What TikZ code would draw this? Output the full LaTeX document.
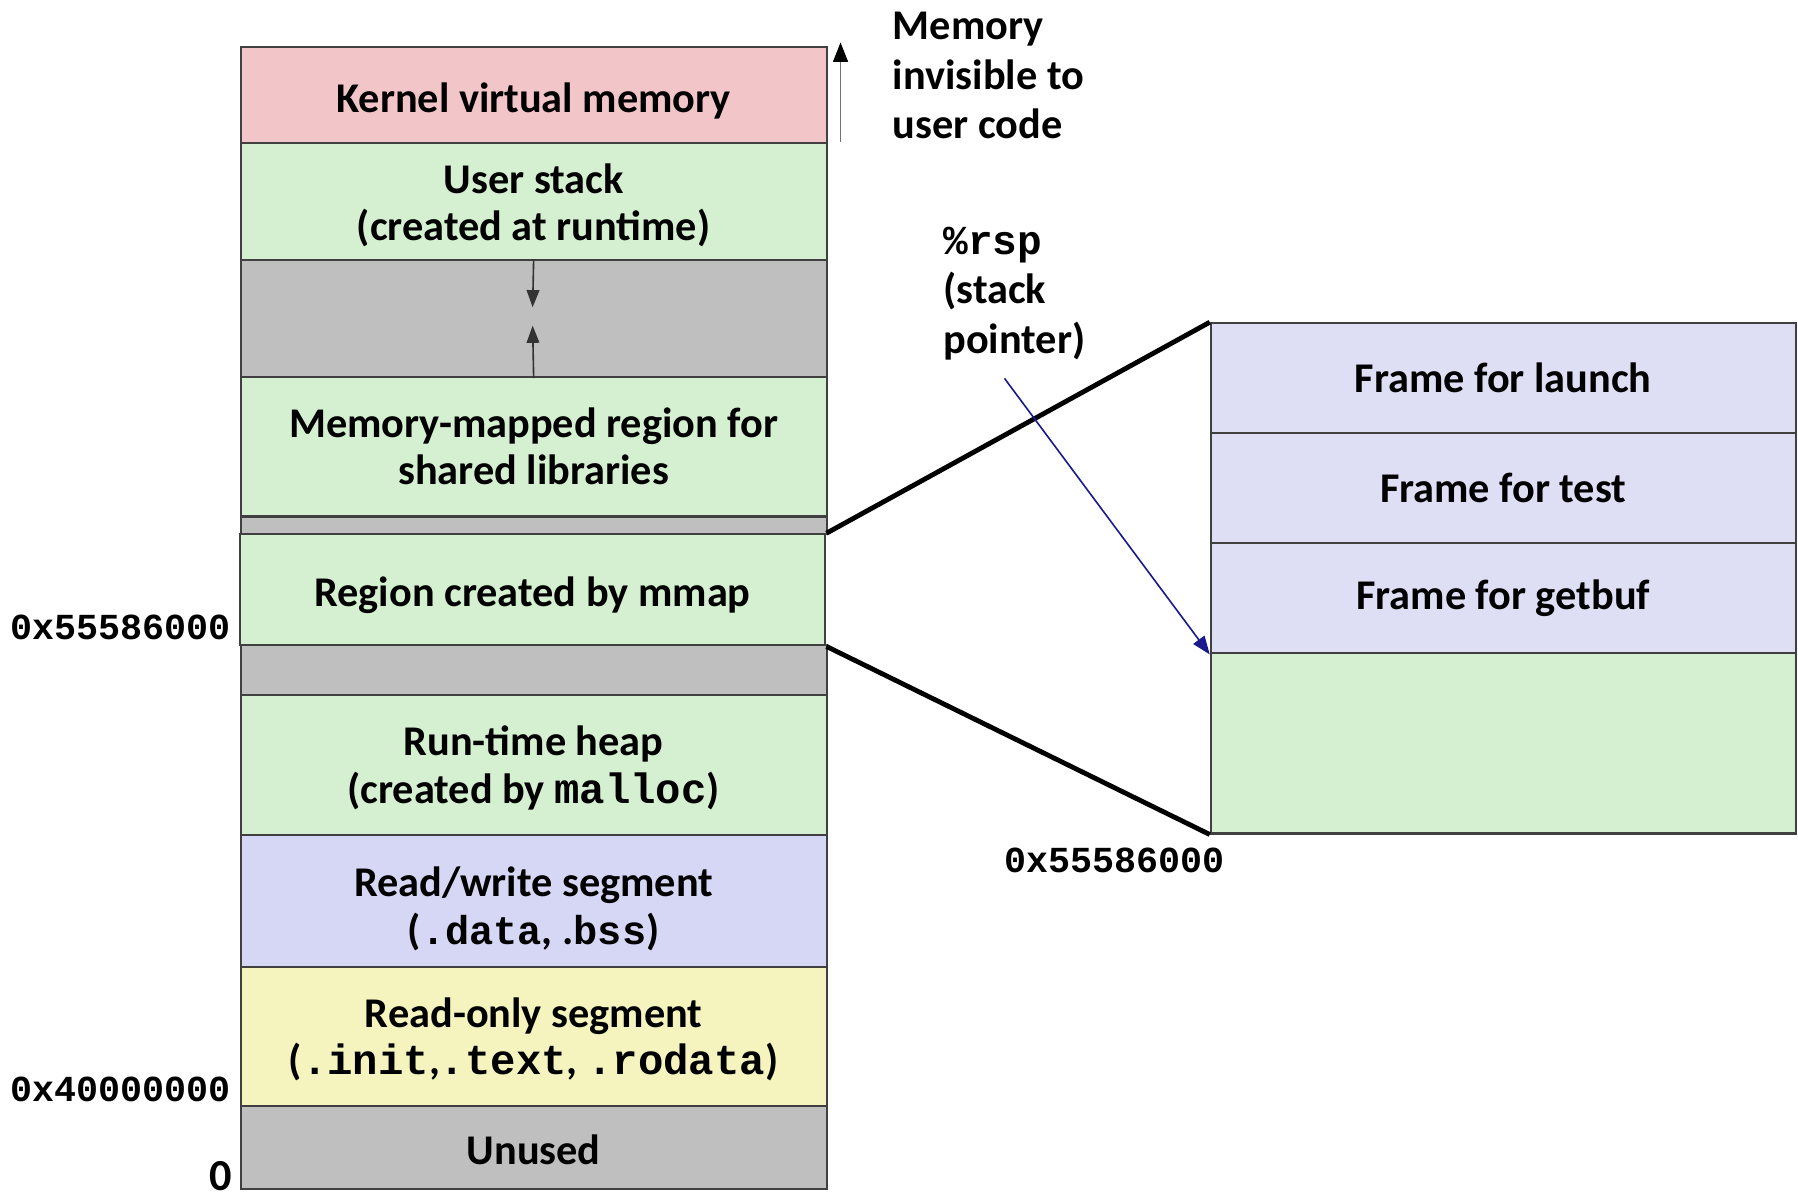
\documentclass[tikz,border=0pt]{standalone}
\usepackage{fontspec}
\setmainfont{Carlito}
\setmonofont{Liberation Mono}
\usetikzlibrary{arrows.meta}
\definecolor{kpink}{HTML}{F2C6C8}
\definecolor{sgreen}{HTML}{D5F0D0}
\definecolor{sgray}{HTML}{BFBFBF}
\definecolor{rwlav}{HTML}{D6D7F4}
\definecolor{royel}{HTML}{F5F4BE}
\definecolor{frlav}{HTML}{DEDEF4}
\definecolor{rspblue}{HTML}{1A1A8C}
\newcommand{\topgap}[1]{\rule{0pt}{#1}}
\begin{document}
\begin{tikzpicture}[x=1cm,y=-1cm,
  box/.style={draw=black!75, line width=0.5pt, anchor=north west, inner sep=0pt,
    align=center, minimum width=5.11cm, font=\fontsize{10.5}{11.8}\selectfont\bfseries},
  seg/.style={box},
  gapbox/.style={box, fill=sgray},
  frm/.style={box, minimum width=5.10cm, minimum height=0.96cm, fill=frlav},
  addr/.style={inner sep=0pt, font=\fontsize{9.1}{11}\selectfont\ttfamily\bfseries},
  note/.style={inner sep=0pt, align=left, font=\fontsize{10.5}{12.3}\selectfont\bfseries},
  thinarr/.style={draw=black!80, line width=0.4pt, -{Triangle[length=0.15cm,width=0.11cm]}},
  zoomline/.style={draw=black, line width=1.2pt}]
\useasboundingbox (0,0) rectangle (15.68,10.46);
\clip (0,0) rectangle (15.68,10.46);

% left memory layout
\node[seg, fill=kpink, minimum height=0.84cm] (kern) at (2.09,0.40) {\topgap{0.36cm}Kernel virtual memory};
\node[seg, fill=sgreen, minimum height=1.02cm] (ustack) at (2.09,1.24) {\topgap{0.32cm}User stack\\(created at runtime)};
\node[gapbox, minimum height=1.02cm] (gap1) at (2.09,2.26) {};
\node[seg, fill=sgreen, minimum height=1.21cm] (shlib) at (2.09,3.28) {Memory-mapped region for\\shared libraries};
\node[gapbox, minimum height=0.15cm] (gap2) at (2.09,4.50) {};
\node[seg, fill=sgreen, minimum height=0.97cm] (mmap) at (2.08,4.65) {\topgap{0.35cm}Region created by mmap};
\node[gapbox, minimum height=0.43cm] (gap3) at (2.09,5.62) {};
\node[seg, fill=sgreen, minimum height=1.22cm] (heap) at (2.09,6.05) {\topgap{0.32cm}Run-time heap\\(created by \texttt{malloc})};
\node[seg, fill=rwlav, minimum height=1.15cm] (rw) at (2.09,7.27) {\topgap{0.40cm}Read/write segment\\(\texttt{\fontsize{10}{11.8}\selectfont .data}, .\texttt{\fontsize{10}{11.8}\selectfont bss})};
\node[seg, fill=royel, minimum height=1.22cm] (ro) at (2.09,8.42) {\topgap{0.31cm}Read-only segment\\(\texttt{.init},\texttt{.text}, \texttt{.rodata})};
\node[seg, fill=sgray, minimum height=0.72cm] (unused) at (2.09,9.64) {\topgap{0.30cm}Unused};

% growth arrows in the gap
\coordinate (dtip) at (4.645,2.68);
\coordinate (utip) at (4.645,2.84);
\draw[thinarr] (gap1.north) -- (dtip);
\draw[thinarr] (gap1.south) -- (utip);

% kernel arrow
\coordinate (kbot) at (7.33,1.24);
\coordinate (ktop) at (7.33,0.37);
\draw[draw=black!55, line width=0.4pt, -{Triangle[length=0.17cm,width=0.13cm,color=black,fill=black]}] (kbot) -- (ktop);
\node[note, anchor=north west] (invis) at (7.78,0.10) {Memory\\invisible to\\user code};

% addresses
\node[addr, anchor=east] (a1) at (2.02,5.47) {0x55586000};
\node[addr, anchor=east] (a2) at (2.02,9.50) {0x40000000};
\node[inner sep=0pt, anchor=south east, font=\fontsize{11}{12}\selectfont\bfseries] (a0) at (2.03,10.39) {0};

% stack frames
\node[frm] (launch) at (10.55,2.81) {Frame for launch};
\node[frm] (test) at (10.55,3.77) {Frame for test};
\node[frm] (getbuf) at (10.55,4.73) {Frame for getbuf};
\node[frm, fill=sgreen, minimum height=1.57cm] (free) at (10.55,5.69) {};
\node[addr, anchor=center] (a3) at (9.72,7.50) {0x55586000};

% zoom lines
\draw[zoomline] (mmap.north east) -- (launch.north west);
\draw[zoomline] (mmap.south east) -- (free.south west);

% rsp
\node[note, anchor=north west] (rsp) at (8.22,1.97) {{\fontsize{10.2}{12}\selectfont\ttfamily\bfseries \%rsp}\\(stack\\pointer)};
\coordinate (rspstart) at (8.76,3.30);
\draw[draw=rspblue, line width=0.4pt, -{Triangle[length=0.16cm,width=0.12cm]}] (rspstart) -- (getbuf.south west);
\end{tikzpicture}
\end{document}
